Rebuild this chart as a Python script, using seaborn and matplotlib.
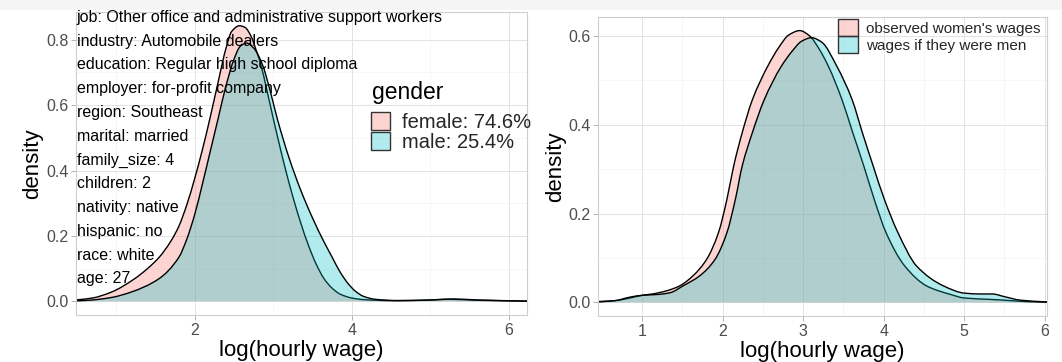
import numpy as np
import matplotlib
matplotlib.use("Agg")
import matplotlib.pyplot as plt
from matplotlib.colors import to_rgba
from matplotlib.patches import Patch, Rectangle, PathPatch
from matplotlib.path import Path
import seaborn as sns

# ---- left panel: wage density by gender for one worker profile ----
left_female_x = [0.49, 0.70, 0.94, 1.23, 1.40, 1.55, 1.70, 1.80, 1.90, 2.00, 2.10, 2.20,
                 2.30, 2.40, 2.47, 2.57, 2.64, 2.72, 2.78, 2.84, 2.92, 3.00, 3.08, 3.16,
                 3.25, 3.35, 3.45, 3.55, 3.65, 3.75, 3.85, 4.00, 4.15, 4.50, 4.90, 5.25,
                 5.60, 6.23]
left_female_y = [0.004, 0.010, 0.028, 0.068, 0.100, 0.135, 0.185, 0.230, 0.295, 0.375, 0.465, 0.565,
                 0.672, 0.775, 0.825, 0.843, 0.838, 0.810, 0.770, 0.726, 0.645, 0.560, 0.478, 0.400,
                 0.320, 0.240, 0.170, 0.112, 0.068, 0.040, 0.022, 0.010, 0.005, 0.002, 0.003, 0.006,
                 0.003, 0.0005]

left_male_x = [0.49, 0.70, 0.95, 1.19, 1.54, 1.80, 1.90, 2.00, 2.10, 2.20, 2.30, 2.40,
               2.50, 2.58, 2.66, 2.75, 2.86, 2.96, 3.05, 3.20, 3.35, 3.50, 3.65, 3.75,
               3.85, 3.95, 4.05, 4.15, 4.30, 4.60, 5.00, 5.30, 5.60, 6.23]
left_male_y = [0.001, 0.004, 0.012, 0.028, 0.068, 0.135, 0.190, 0.265, 0.360, 0.460, 0.560, 0.660,
               0.740, 0.780, 0.790, 0.775, 0.726, 0.645, 0.560, 0.440, 0.340, 0.255, 0.180, 0.135,
               0.090, 0.055, 0.030, 0.015, 0.006, 0.002, 0.004, 0.007, 0.004, 0.0005]

# ---- right panel: observed women's wages vs. wages if they were men ----
right_obs_x = [0.45, 0.663, 0.85, 1.00, 1.126, 1.30, 1.463, 1.631, 1.80, 1.947, 2.052, 2.136,
               2.242, 2.368, 2.557, 2.70, 2.82, 2.957, 3.08, 3.20, 3.315, 3.483, 3.609, 3.757,
               3.883, 4.03, 4.262, 4.535, 4.83, 5.00, 5.30, 5.50, 5.75, 6.03]
right_obs_y = [0.002, 0.004, 0.010, 0.016, 0.019, 0.026, 0.037, 0.060, 0.097, 0.157, 0.232, 0.307,
               0.382, 0.456, 0.531, 0.575, 0.602, 0.612, 0.600, 0.570, 0.531, 0.456, 0.386, 0.305,
               0.232, 0.157, 0.082, 0.037, 0.018, 0.010, 0.007, 0.005, 0.002, 0.0005]

right_men_x = [0.45, 0.663, 0.85, 1.00, 1.20, 1.35, 1.505, 1.715, 1.905, 2.052, 2.157, 2.242,
               2.368, 2.515, 2.726, 2.86, 2.98, 3.104, 3.23, 3.42, 3.609, 3.736, 3.87, 4.009,
               4.178, 4.409, 4.746, 5.00, 5.20, 5.35, 5.50, 5.70, 6.03]
right_men_y = [0.001, 0.004, 0.012, 0.016, 0.018, 0.022, 0.037, 0.060, 0.097, 0.157, 0.232, 0.307,
               0.382, 0.456, 0.531, 0.565, 0.588, 0.596, 0.586, 0.531, 0.456, 0.382, 0.307, 0.232,
               0.157, 0.082, 0.037, 0.021, 0.019, 0.019, 0.013, 0.005, 0.001]

profile_lines = [
    "job: Other office and administrative support workers",
    "industry: Automobile dealers",
    "education: Regular high school diploma",
    "employer: for-profit company",
    "region: Southeast",
    "marital: married",
    "family_size: 4",
    "children: 2",
    "nativity: native",
    "hispanic: no",
    "race: white",
    "age: 27",
]
legend_title = "gender"
gender_labels = ["female: 74.6%", "male: 25.4%"]
right_labels = ["observed women's wages", "wages if they were men"]

left_xticks = [2, 4, 6]
left_xminor = [1, 3, 5]
left_yticks = [0.0, 0.2, 0.4, 0.6, 0.8]
left_yminor = [0.1, 0.3, 0.5, 0.7]
right_xticks = [1, 2, 3, 4, 5, 6]
right_xminor = [1.5, 2.5, 3.5, 4.5, 5.5]
right_yticks = [0.0, 0.2, 0.4, 0.6]
right_yminor = [0.1, 0.3, 0.5]

PINK = "#F8766D"
TEAL = "#00BFC4"
ALPHA = 0.3

sns.set_theme(style="white")
plt.rcParams["font.family"] = ["Liberation Sans", "DejaVu Sans"]

W, H = 1062, 362
fig = plt.figure(figsize=(W / 100, H / 100), dpi=100)
fig.patch.set_facecolor("white")
fig.patches.append(Rectangle((0, 1 - 10 / H), 1, 10 / H, transform=fig.transFigure,
                             facecolor="#f5f5f5", edgecolor="none", zorder=-10))

ax_l = fig.add_axes([76 / W, 1 - 315 / H, (527 - 76) / W, (315 - 12) / H])
ax_r = fig.add_axes([598 / W, 1 - 316 / H, (1047 - 598) / W, (316 - 17) / H])


def style_axes(ax, xt, xm, yt, ym, xlim, ylim, ypad):
    ax.set_xlim(*xlim)
    ax.set_ylim(*ylim)
    ax.set_xticks(xt)
    ax.set_xticks(xm, minor=True)
    ax.set_yticks(yt)
    ax.set_yticks(ym, minor=True)
    ax.set_xticklabels([f"{v:g}" for v in xt])
    ax.set_yticklabels([f"{v:.1f}" for v in yt])
    ax.grid(which="major", color="#e3e3e3", lw=0.7)
    ax.grid(which="minor", color="#efefef", lw=0.4)
    ax.set_axisbelow(True)
    for sp in ax.spines.values():
        sp.set_visible(True)
        sp.set_color("#cfcfcf")
        sp.set_linewidth(0.8)
    ax.tick_params(which="major", length=3.5, width=0.7, color="#b3b3b3",
                   labelsize=11.5, labelcolor="#4d4d4d", pad=2, bottom=True, left=True)
    ax.tick_params(which="minor", length=0)
    ax.set_xlabel("log(hourly wage)", fontsize=16, color="black", labelpad=2)
    ax.set_ylabel("density", fontsize=16, color="black", labelpad=ypad)


def hermite_slopes(x, y):
    """Shape-preserving (monotone) slopes at each knot."""
    h = np.diff(x)
    d = np.diff(y) / h
    m = np.zeros_like(y)
    for i in range(1, len(y) - 1):
        if d[i - 1] * d[i] > 0:
            w1 = 2 * h[i] + h[i - 1]
            w2 = h[i] + 2 * h[i - 1]
            m[i] = (w1 + w2) / (w1 / d[i - 1] + w2 / d[i])
    m[0], m[-1] = d[0], d[-1]
    return m


def curve_segments(x, y):
    """Cubic Bezier control points joining the knots smoothly."""
    x = np.asarray(x, float)
    y = np.asarray(y, float)
    m = hermite_slopes(x, y)
    verts, codes = [], []
    for i in range(len(x) - 1):
        h = x[i + 1] - x[i]
        verts += [(x[i] + h / 3, y[i] + m[i] * h / 3),
                  (x[i + 1] - h / 3, y[i + 1] - m[i + 1] * h / 3),
                  (x[i + 1], y[i + 1])]
        codes += [Path.CURVE4] * 3
    return verts, codes


def draw_density(ax, x, y, color):
    segs, seg_codes = curve_segments(x, y)
    fill_verts = [(x[0], 0.0), (x[0], y[0])] + segs + [(x[-1], 0.0), (x[0], 0.0)]
    fill_codes = [Path.MOVETO, Path.LINETO] + seg_codes + [Path.LINETO, Path.CLOSEPOLY]
    ax.add_patch(PathPatch(Path(fill_verts, fill_codes), facecolor=to_rgba(color, ALPHA),
                           edgecolor="none", lw=0))
    line_verts = [(x[0], y[0])] + segs
    line_codes = [Path.MOVETO] + seg_codes
    ax.add_patch(PathPatch(Path(line_verts, line_codes), facecolor="none",
                           edgecolor="black", lw=1.0, capstyle="butt", joinstyle="round"))


# left panel
draw_density(ax_l, left_female_x, left_female_y, PINK)
draw_density(ax_l, left_male_x, left_male_y, TEAL)
style_axes(ax_l, left_xticks, left_xminor, left_yticks, left_yminor,
           (0.49, 6.23), (-0.042, 0.885), ypad=2)

y0, dy = 0.869, 0.0728
for i, line in enumerate(profile_lines):
    ax_l.text(0.50, y0 - i * dy, line, fontsize=11.5, color="black",
              ha="left", va="center", clip_on=False)

fig.text(372 / W, 1 - 93 / H, legend_title, fontsize=16.5, color="black",
         ha="left", va="center")
handles_l = [Patch(facecolor=to_rgba(c, ALPHA), edgecolor="#333333", lw=1.0) for c in (PINK, TEAL)]
fig.legend(handles_l, gender_labels, loc="upper left",
           bbox_to_anchor=(371 / W, 1 - 112 / H), bbox_transform=fig.transFigure,
           frameon=False, fontsize=14.5, handlelength=0.95,
           handleheight=1.0, handletextpad=0.6, labelspacing=0.0, borderpad=0,
           borderaxespad=0)

# right panel
draw_density(ax_r, right_obs_x, right_obs_y, PINK)
draw_density(ax_r, right_men_x, right_men_y, TEAL)
style_axes(ax_r, right_xticks, right_xminor, right_yticks, right_yminor,
           (0.45, 6.03), (-0.0306, 0.6426), ypad=1)

handles_r = [Patch(facecolor=to_rgba(c, ALPHA), edgecolor="#333333", lw=1.0) for c in (PINK, TEAL)]
fig.legend(handles_r, right_labels, loc="upper left",
           bbox_to_anchor=(838 / W, 1 - 19 / H), bbox_transform=fig.transFigure,
           frameon=False, fontsize=11, handlelength=1.3, handleheight=1.35,
           handletextpad=0.55, labelspacing=0.0, borderpad=0, borderaxespad=0)

fig.savefig("out.png", dpi=100, facecolor="white")
